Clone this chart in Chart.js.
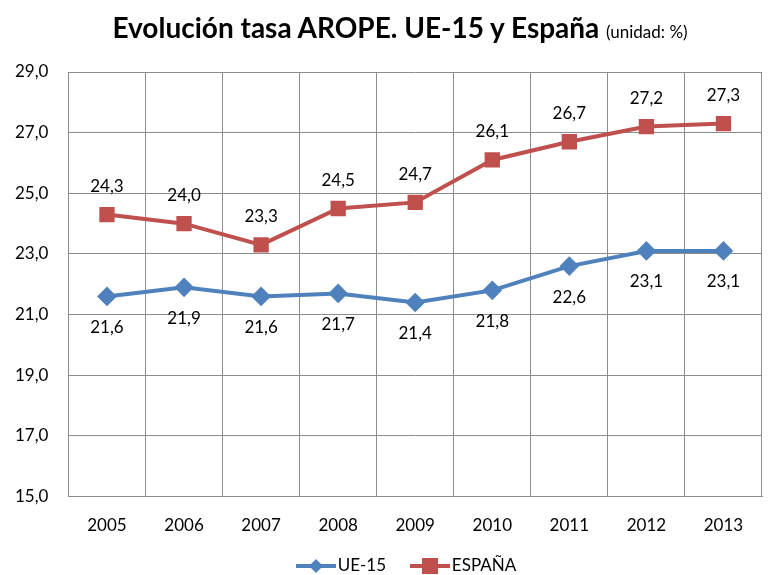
<!DOCTYPE html>
<html>
<head>
<meta charset="utf-8">
<script src="https://cdn.jsdelivr.net/npm/chart.js@4/dist/chart.umd.min.js"></script>
<style>
  body { margin: 0; background: #fff; font-family: Lato, 'Open Sans', sans-serif; }
  #wrap { position: relative; width: 774px; height: 575px; }
  #titulo { position: absolute; top: 10px; left: 0; width: 800px; text-align: center; font-size: 28px; font-weight: bold; color: #000; }
  #titulo span { font-size: 17px; font-weight: normal; }
  #leyenda { position: absolute; top: 554px; left: 0; width: 810px; text-align: center; font-size: 17px; color: #000; }
  #leyenda svg { vertical-align: -3px; }
  canvas { display: block; }
</style>
</head>
<body>
<div id="wrap">
  <canvas id="GraficoArope" width="774" height="575"></canvas>
  <div id="titulo">Evolución tasa AROPE. UE-15 y España <span>(unidad: %)</span></div>
  <div id="leyenda">
    <svg width="44" height="16"><line x1="2" y1="8" x2="42" y2="8" stroke="#4F81BD" stroke-width="4"/><polygon points="22,1 29,8 22,15 15,8" fill="#4F81BD"/></svg>UE-15&nbsp;&nbsp;&nbsp;&nbsp;
    <svg width="44" height="16"><line x1="2" y1="8" x2="42" y2="8" stroke="#C0504D" stroke-width="4"/><rect x="14" y="0" width="16" height="16" fill="#C0504D"/></svg>ESPAÑA
  </div>
</div>
<script>
var anios = ['2005', '2006', '2007', '2008', '2009', '2010', '2011', '2012', '2013'];
var ue15 = [21.6, 21.9, 21.6, 21.7, 21.4, 21.8, 22.6, 23.1, 23.1];
var espana = [24.3, 24.0, 23.3, 24.5, 24.7, 26.1, 26.7, 27.2, 27.3];

function FormatoComa(v) {
    return Number(v).toFixed(1).replace('.', ',');
}

// etiquetas de valor: España arriba, UE-15 abajo
var etiquetas = {
    id: 'etiquetas',
    afterDatasetsDraw: function (chart) {
        var ctx = chart.ctx;
        ctx.save();
        ctx.font = '17px Lato, sans-serif';
        ctx.fillStyle = '#000';
        ctx.textAlign = 'center';
        ctx.textBaseline = 'middle';
        chart.data.datasets.forEach(function (ds, i) {
            var meta = chart.getDatasetMeta(i);
            meta.data.forEach(function (p, j) {
                var dy = ds.label === 'ESPAÑA' ? -28 : 31;
                ctx.fillText(FormatoComa(ds.data[j]), p.x, p.y + dy);
            });
        });
        ctx.restore();
    }
};

var ctx = document.getElementById('GraficoArope').getContext('2d');

var grafico = new Chart(ctx, {
    type: 'line',
    data: {
        labels: anios,
        datasets: [{
            label: 'UE-15',
            data: ue15,
            borderColor: '#4F81BD',
            backgroundColor: '#4F81BD',
            borderWidth: 4,
            pointStyle: 'rectRot',
            pointRadius: 7,
            pointHoverRadius: 7,
            tension: 0
        }, {
            label: 'ESPAÑA',
            data: espana,
            borderColor: '#C0504D',
            backgroundColor: '#C0504D',
            borderWidth: 4,
            pointStyle: 'rect',
            pointRadius: 8,
            pointHoverRadius: 8,
            tension: 0
        }]
    },
    options: {
        responsive: false,
        animation: false,
        layout: { padding: { top: 72, right: 3, bottom: 20, left: -5 } },
        plugins: {
            legend: { display: false },
            title: { display: false },
            tooltip: { enabled: false }
        },
        scales: {
            x: {
                offset: true,
                grid: { offset: true, color: '#8C8C8C', lineWidth: 1, drawTicks: false },
                border: { color: '#8C8C8C' },
                ticks: { color: '#000', font: { family: 'Lato', size: 17 }, padding: 19 }
            },
            y: {
                min: 15,
                max: 29,
                grid: { color: '#8C8C8C', lineWidth: 1, drawTicks: false },
                border: { color: '#8C8C8C' },
                ticks: {
                    stepSize: 2,
                    color: '#000',
                    padding: 20,
                    font: { family: 'Lato', size: 17 },
                    callback: function (v) { return FormatoComa(v); }
                }
            }
        }
    },
    plugins: [etiquetas]
});
</script>
</body>
</html>
